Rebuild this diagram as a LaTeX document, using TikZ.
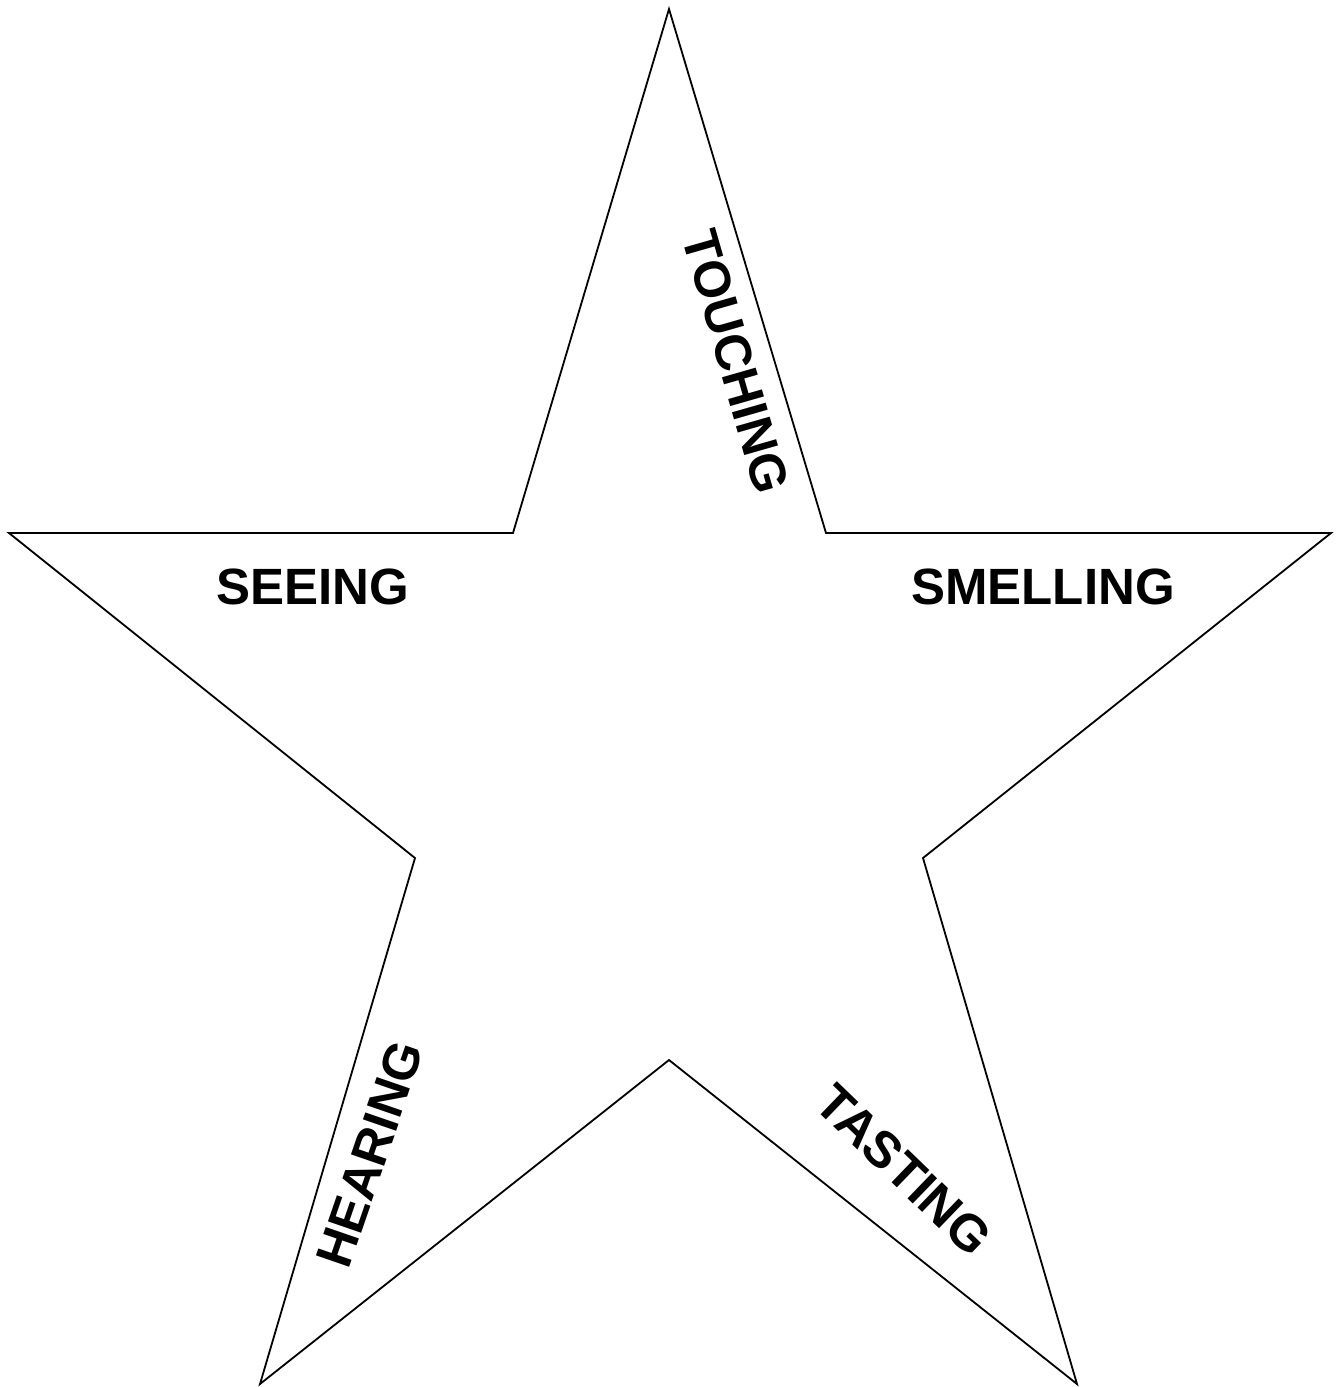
\documentclass[tikz,border=0pt]{standalone}
\usepackage{fontspec}
\setmainfont{Liberation Sans}
\begin{document}
\begin{tikzpicture}[x=1pt,y=-1pt,
  lbl/.style={font=\fontsize{51}{61}\selectfont\bfseries, inner sep=0pt}]
\useasboundingbox (0,0) rectangle (1336,1387);
\draw[line width=1.8pt, line join=miter]
  (669,9) coordinate (top) -- (826,533) coordinate (iur) -- (1331,533) coordinate (rt)
  -- (923,858) coordinate (ilr) -- (1077,1384) coordinate (br) -- (669,1060) coordinate (ib)
  -- (260,1384) coordinate (bl) -- (415,858) coordinate (ill) -- (9,533) coordinate (lt)
  -- (513,533) coordinate (iul) -- cycle;
\node[lbl, rotate=-74] (touching) at (736,362) {TOUCHING};
\node[lbl] (seeing) at (313,587) {SEEING};
\node[lbl] (smelling) at (1043,587) {SMELLING};
\node[lbl, rotate=71] (hearing) at (370,1154) {HEARING};
\node[lbl, rotate=-44] (tasting) at (904,1170) {TASTING};
\end{tikzpicture}
\end{document}
